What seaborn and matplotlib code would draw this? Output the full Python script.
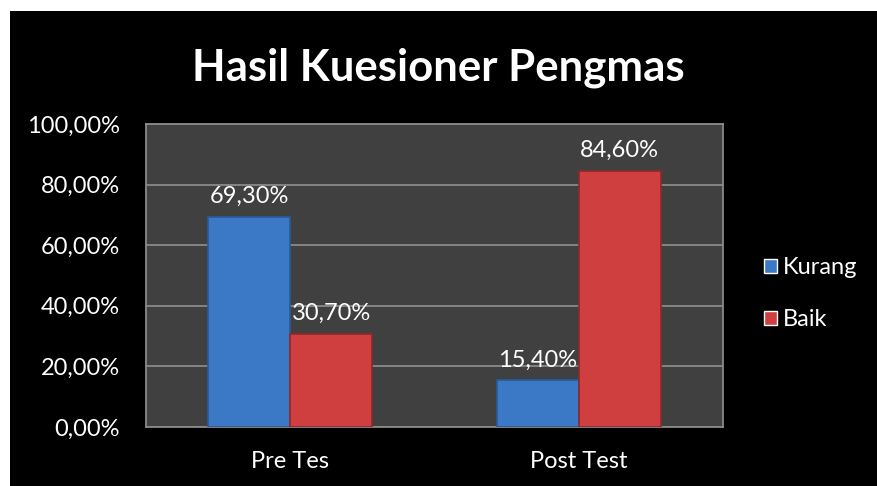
import numpy as np
import pandas as pd
import matplotlib.pyplot as plt
import matplotlib.patches as mpatches
import seaborn as sns

# ======================================================
# DATA
# ======================================================

categories = ["Pre Tes", "Post Test"]
series = ["Kurang", "Baik"]
kurang = [69.3, 15.4]
baik = [30.7, 84.6]
y_ticks = [0, 20, 40, 60, 80, 100]

df = pd.DataFrame({
    "kategori": categories * 2,
    "seri": [series[0]] * 2 + [series[1]] * 2,
    "nilai": kurang + baik,
})

# ======================================================
# STYLE
# ======================================================

sns.set_style("dark")
plt.rcParams["font.family"] = ["Lato", "DejaVu Sans"]

fig = plt.figure(figsize=(8.77, 4.86), dpi=100, facecolor="white")

# black chart area with thin white margin on top/left
fig.patches.append(mpatches.Rectangle(
    (10 / 877, 0), 1 - 10 / 877, 1 - 11 / 486,
    transform=fig.transFigure, facecolor="black", edgecolor="none", zorder=-5
))

ax = fig.add_axes([146 / 877, (486 - 427) / 486, 577 / 877, 303 / 486])
ax.set_facecolor("#404040")

palette = {"Kurang": "#3b78c6", "Baik": "#cf3f3f"}

sns.barplot(
    data=df,
    x="kategori",
    y="nilai",
    hue="seri",
    palette=palette,
    width=0.57,
    saturation=1,
    ax=ax,
    legend=True,
    zorder=3,
)

edge_cols = ["#2a5a98"] * 2 + ["#8e2828"] * 2
for patch, ec in zip(ax.patches, edge_cols):
    patch.set_edgecolor(ec)
    patch.set_linewidth(1.2)

# labels above bars
for container in ax.containers:
    labels = [f"{v:.2f}%".replace(".", ",") for v in container.datavalues]
    ax.bar_label(container, labels=labels, padding=7,
                 color="white", fontsize=17)

ax.set_ylim(0, 100)
ax.set_xlim(-0.5, 1.5)
ax.set_yticks(y_ticks)
ax.set_yticklabels([f"{t:.2f}%".replace(".", ",") for t in y_ticks])
ax.tick_params(axis="y", colors="white", labelsize=17, length=0, pad=19)
ax.tick_params(axis="x", colors="white", labelsize=17, length=0, pad=17)
ax.set_xlabel("")
ax.set_ylabel("")

ax.grid(axis="y", color="#8a8a8a", linewidth=1.3, zorder=1)
ax.grid(axis="x", visible=False)
for side in ax.spines.values():
    side.set_visible(True)
    side.set_color("#8a8a8a")
    side.set_linewidth(1.3)

leg = ax.legend(
    loc="center left",
    bbox_to_anchor=(1.035, 0.44),
    frameon=False,
    fontsize=17,
    labelcolor="white",
    handlelength=0.55,
    handleheight=0.55,
    handletextpad=0.25,
    labelspacing=1.3,
)

fig.text(0.5, 1 - 68 / 486, "Hasil Kuesioner Pengmas",
         ha="center", va="center", color="white",
         fontsize=31.5, fontweight="bold")

plt.savefig("out.png", dpi=100, facecolor=fig.get_facecolor())
plt.close()
